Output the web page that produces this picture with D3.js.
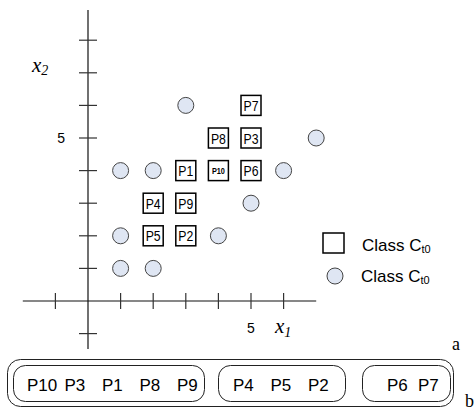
<!DOCTYPE html>
<html>
<head>
<meta charset="utf-8">
<script src="https://cdn.jsdelivr.net/npm/d3@7"></script>
<style>
  body { margin: 0; background: #fff; }
  svg { display: block; }
</style>
</head>
<body>
<svg id="chart" width="474" height="413"></svg>
<script>
// data
var squareLabels = ["P1", "P2", "P3", "P4", "P5", "P6", "P7", "P8", "P9", "P10"];
var squareX = [3, 3, 5, 2, 2, 5, 5, 4, 3, 4];
var squareY = [4, 2, 5, 3, 2, 4, 6, 5, 3, 4];
var circleX = [3, 7, 1, 2, 6, 5, 1, 4, 1, 2];
var circleY = [6, 5, 4, 4, 4, 3, 2, 2, 1, 1];
var xTicks = [-1, 1, 2, 3, 4, 5, 6];
var yTicks = [-1, 1, 2, 3, 4, 5, 6, 7, 8];
var groups = [["P10", "P3", "P1", "P8", "P9"], ["P4", "P5", "P2"], ["P6", "P7"]];
var legendLabels = ["Class C", "Class C"];

var svg = d3.select("#chart");
var sans = "Arial, 'Liberation Sans', sans-serif";
var serif = "'Times New Roman', 'Liberation Serif', serif";

var x = d3.scaleLinear().domain([0, 5]).range([88, 251]);
var y = d3.scaleLinear().domain([0, 5]).range([301, 138]);

// axes
svg.append("line")
    .attr("x1", x(-2)).attr("x2", x(7))
    .attr("y1", y(0)).attr("y2", y(0))
    .attr("stroke", "#111").attr("stroke-width", 1.2);
svg.append("line")
    .attr("x1", x(0)).attr("x2", x(0))
    .attr("y1", y(-1.47)).attr("y2", y(8.93))
    .attr("stroke", "#111").attr("stroke-width", 1.2);

svg.append("g").selectAll("line").data(xTicks).enter().append("line")
    .attr("x1", function (d) { return x(d); })
    .attr("x2", function (d) { return x(d); })
    .attr("y1", y(0) - 8).attr("y2", y(0) + 8)
    .attr("stroke", "#333").attr("stroke-width", 1.2);

svg.append("g").selectAll("line").data(yTicks).enter().append("line")
    .attr("x1", x(0) - 9).attr("x2", x(0) + 9)
    .attr("y1", function (d) { return y(d); })
    .attr("y2", function (d) { return y(d); })
    .attr("stroke", "#333").attr("stroke-width", 1.2);

// "5" tick labels
svg.append("text").attr("x", x(5)).attr("y", y(0) + 32)
    .attr("text-anchor", "middle").attr("font-family", sans).attr("font-size", 14)
    .text("5");
svg.append("text").attr("x", x(0) - 23).attr("y", y(5) + 5)
    .attr("text-anchor", "end").attr("font-family", sans).attr("font-size", 14)
    .text("5");

// axis names
var xl = svg.append("text").attr("x", 275).attr("y", 333)
    .attr("font-family", serif).attr("font-style", "italic").attr("font-size", 21);
xl.append("tspan").text("x");
xl.append("tspan").attr("font-size", 14).attr("dy", 4).text("1");

var yl = svg.append("text").attr("x", 32).attr("y", 72)
    .attr("font-family", serif).attr("font-style", "italic").attr("font-size", 21);
yl.append("tspan").text("x");
yl.append("tspan").attr("font-size", 14).attr("dy", 3).text("2");

// circles
var circles = circleX.map(function (d, i) { return { x: d, y: circleY[i] }; });
svg.append("g").selectAll("circle").data(circles).enter().append("circle")
    .attr("cx", function (d) { return x(d.x); })
    .attr("cy", function (d) { return y(d.y); })
    .attr("r", 8)
    .attr("fill", "#dfe6f3")
    .attr("stroke", "#444").attr("stroke-width", 1);

// squares
var squares = squareLabels.map(function (d, i) { return { label: d, x: squareX[i], y: squareY[i] }; });
var sq = svg.append("g").selectAll("g").data(squares).enter().append("g")
    .attr("transform", function (d) { return "translate(" + x(d.x) + "," + y(d.y) + ")"; });
sq.append("rect")
    .attr("x", -10).attr("y", -10).attr("width", 20).attr("height", 20)
    .attr("fill", "#fff").attr("stroke", "#000").attr("stroke-width", 1.5);
sq.append("text")
    .attr("text-anchor", "middle")
    .attr("y", function (d) { return d.label.length > 2 ? 3 : 5.5; })
    .attr("font-family", sans)
    .attr("font-size", function (d) { return d.label.length > 2 ? 8.5 : 15; })
    .attr("font-weight", function (d) { return d.label.length > 2 ? "bold" : "normal"; })
    .attr("textLength", function (d) { return d.label.length > 2 ? 13 : 15; })
    .attr("lengthAdjust", "spacingAndGlyphs")
    .text(function (d) { return d.label; });

// legend
var leg = svg.append("g").attr("transform", "translate(323,233)");
leg.append("rect").attr("x", 0).attr("y", 0).attr("width", 21).attr("height", 20)
    .attr("fill", "none").attr("stroke", "#000").attr("stroke-width", 1.5);
leg.append("circle").attr("cx", 12).attr("cy", 43).attr("r", 8)
    .attr("fill", "#dfe6f3").attr("stroke", "#444").attr("stroke-width", 1);
leg.selectAll("text.lab").data(legendLabels).enter().append("text")
    .attr("class", "lab")
    .attr("x", function (d, i) { return i === 0 ? 39 : 38; })
    .attr("y", function (d, i) { return 18 + i * 31; })
    .attr("font-family", sans).attr("font-size", 17)
    .each(function (d) {
        var t = d3.select(this);
        t.append("tspan").text(d);
        t.append("tspan").attr("font-size", 11).attr("dy", 2).text("t0");
    });

// "a" and "b" markers
svg.append("text").attr("x", 452).attr("y", 350)
    .attr("font-family", serif).attr("font-size", 18).text("a");
svg.append("text").attr("x", 465).attr("y", 407)
    .attr("font-family", serif).attr("font-size", 18).text("b");

// grouping boxes
svg.append("rect").attr("x", 7.5).attr("y", 359.5).attr("width", 446).attr("height", 47)
    .attr("rx", 13).attr("fill", "none").attr("stroke", "#222").attr("stroke-width", 1);

var groupSpans = [[13, 204], [218, 345], [362, 450]];
var groupFirst = [27, 233, 387];
var groupStep = [37.5, 37.5, 31];
groups.forEach(function (g, gi) {
    var span = groupSpans[gi];
    svg.append("rect")
        .attr("x", span[0] + 0.5).attr("y", 365.5)
        .attr("width", span[1] - span[0]).attr("height", 36)
        .attr("rx", 12).attr("fill", "none").attr("stroke", "#222").attr("stroke-width", 1);
    var px = d3.scalePoint().domain(g)
        .range([groupFirst[gi], groupFirst[gi] + groupStep[gi] * (g.length - 1)]);
    svg.append("g").selectAll("text").data(g).enter().append("text")
        .attr("x", function (d) { return px(d); })
        .attr("y", 391)
        .attr("font-family", sans).attr("font-size", 17)
        .text(function (d) { return d; });
});
</script>
</body>
</html>
